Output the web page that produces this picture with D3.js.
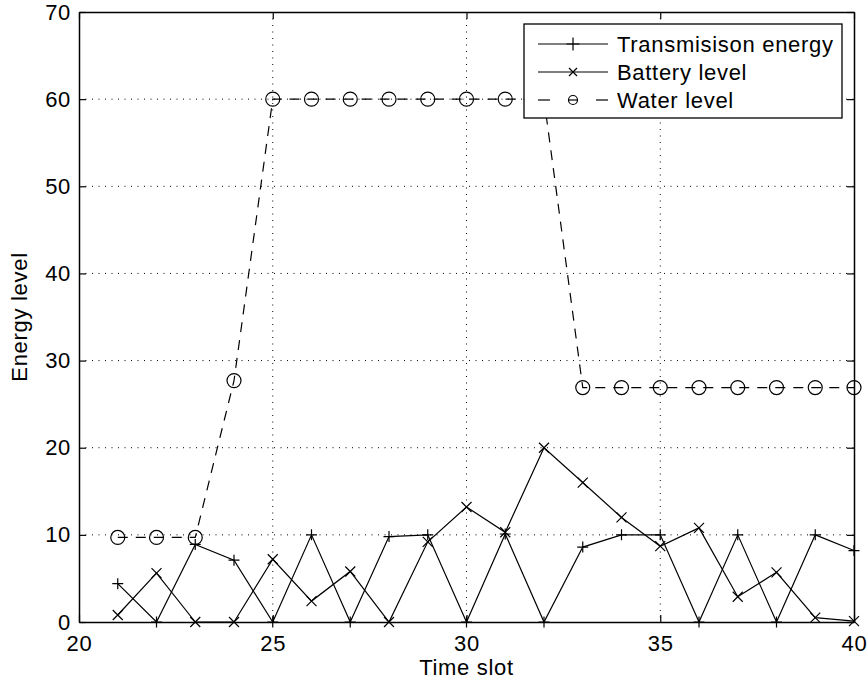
<!DOCTYPE html>
<html>
<head>
<meta charset="utf-8">
<script src="https://cdn.jsdelivr.net/npm/d3@7"></script>
<style>
    body { margin: 0; background: #fff; }
    text { font-family: "Liberation Sans", Arial, sans-serif; letter-spacing: 0.7px; }
</style>
</head>
<body>
<div id="chart"></div>
<script>
// data
const timeSlots = [21, 22, 23, 24, 25, 26, 27, 28, 29, 30, 31, 32, 33, 34, 35, 36, 37, 38, 39, 40];
const transmissionEnergy = [4.4, 0, 8.9, 7.1, 0, 10, 0, 9.8, 10, 0, 10.1, 0, 8.6, 10, 10, 0, 10, 0, 10, 8.2];
const batteryLevel = [0.8, 5.6, 0, 0, 7.2, 2.4, 5.8, 0, 9.2, 13.2, 10.3, 20, 16, 12, 8.7, 10.8, 2.9, 5.7, 0.5, 0.1];
const waterLevel = [9.7, 9.7, 9.7, 27.7, 60, 60, 60, 60, 60, 60, 60, 60, 26.9, 26.9, 26.9, 26.9, 26.9, 26.9, 26.9, 26.9];
const xTicks = [20, 25, 30, 35, 40];
const yTicks = [0, 10, 20, 30, 40, 50, 60, 70];
const seriesNames = ["Transmisison energy", "Battery level", "Water level"];

const totalWidth = 868;
const totalHeight = 684;
const margin = { top: 12, right: 14, bottom: 62, left: 79 };
const width = totalWidth - margin.left - margin.right;
const height = totalHeight - margin.top - margin.bottom;
const fontSize = "22px";
const tickLen = 7;

const svg = d3.select("#chart")
    .append("svg")
    .attr("width", totalWidth)
    .attr("height", totalHeight)
    .append("g")
    .attr("transform", `translate(${margin.left},${margin.top})`);

const x = d3.scaleLinear().domain([20, 40]).range([0, width]);
const y = d3.scaleLinear().domain([0, 70]).range([height, 0]);

// dotted grid
svg.append("g")
    .selectAll("line")
    .data(xTicks.slice(1, -1))
    .join("line")
    .attr("x1", d => x(d)).attr("x2", d => x(d))
    .attr("y1", 0).attr("y2", height)
    .attr("stroke", "#000")
    .attr("stroke-width", 1)
    .attr("stroke-dasharray", "1 5.5");
svg.append("g")
    .selectAll("line")
    .data(yTicks.slice(1, -1))
    .join("line")
    .attr("x1", 0).attr("x2", width)
    .attr("y1", d => y(d)).attr("y2", d => y(d))
    .attr("stroke", "#000")
    .attr("stroke-width", 1)
    .attr("stroke-dasharray", "1 5.5");

const rows = timeSlots.map((t, i) => ({
    t: t,
    trans: transmissionEnergy[i],
    batt: batteryLevel[i],
    water: waterLevel[i]
}));

const plus = (g, s) => g.append("path").attr("d", `M${-s},0H${s}M0,${-s}V${s}`);
const cross = (g, s) => g.append("path").attr("d", `M${-s},${-s}L${s},${s}M${-s},${s}L${s},${-s}`);
const ring = (g, s) => g.append("circle").attr("r", s);

function drawSeries(key, dash, marker, size) {
    svg.append("path")
        .datum(rows)
        .attr("fill", "none")
        .attr("stroke", "#000")
        .attr("stroke-width", 1.2)
        .attr("stroke-dasharray", dash)
        .attr("d", d3.line().x(d => x(d.t)).y(d => y(d[key])));

    svg.append("g")
        .selectAll("g")
        .data(rows)
        .join("g")
        .attr("transform", d => `translate(${x(d.t)},${y(d[key])})`)
        .each(function () {
            marker(d3.select(this), size)
                .attr("fill", "none")
                .attr("stroke", "#000")
                .attr("stroke-width", 1.2);
        });
}

drawSeries("trans", null, plus, 5.5);
drawSeries("batt", null, cross, 5);
drawSeries("water", "10 8", ring, 7);

// legend
const legend = svg.append("g")
    .attr("transform", `translate(${524 - margin.left},${24 - margin.top})`);
legend.append("rect")
    .attr("width", 318)
    .attr("height", 94)
    .attr("fill", "#fff")
    .attr("stroke", "#000")
    .attr("stroke-width", 1.3);

const legendItems = [
    { name: seriesNames[0], dash: null, marker: plus, size: 6.5 },
    { name: seriesNames[1], dash: null, marker: cross, size: 4 },
    { name: seriesNames[2], dash: "10 7", marker: ring, size: 4.5 }
];
legendItems.forEach((item, i) => {
    const row = legend.append("g").attr("transform", `translate(0,${20 + i * 28})`);
    if (item.dash) {
        row.append("line").attr("x1", 14).attr("x2", 26).attr("stroke", "#000").attr("stroke-width", 1.2);
        row.append("line").attr("x1", 72).attr("x2", 84).attr("stroke", "#000").attr("stroke-width", 1.2);
        row.append("line").attr("x1", 44).attr("x2", 54).attr("stroke", "#000").attr("stroke-width", 1.2);
    } else {
        row.append("line").attr("x1", 14).attr("x2", 84).attr("stroke", "#000").attr("stroke-width", 1.2);
    }
    item.marker(row.append("g").attr("transform", "translate(49,0)"), item.size)
        .attr("fill", "none")
        .attr("stroke", "#000")
        .attr("stroke-width", 1.2);
    row.append("text")
        .attr("x", 93)
        .attr("dy", "0.35em")
        .style("font-size", fontSize)
        .text(item.name);
});

// axes, ticks pointing inward (box on all sides)
const styleAxis = g => {
    g.selectAll("path.domain").attr("stroke", "#000").attr("stroke-width", 1.5);
    g.selectAll(".tick line").attr("stroke", "#000").attr("stroke-width", 1.2);
    g.selectAll("text").style("font-size", fontSize).attr("fill", "#000");
};

svg.append("g")
    .attr("transform", `translate(0,${height})`)
    .call(d3.axisBottom(x).tickValues(xTicks).tickSizeInner(-tickLen).tickSizeOuter(0).tickPadding(13).tickFormat(d3.format("d")))
    .call(styleAxis);
svg.append("g")
    .call(d3.axisTop(x).tickValues(xTicks).tickSizeInner(-tickLen).tickSizeOuter(0).tickFormat(""))
    .call(styleAxis);
svg.append("g")
    .call(d3.axisLeft(y).tickValues(yTicks).tickSizeInner(-tickLen).tickSizeOuter(0).tickPadding(8).tickFormat(d3.format("d")))
    .call(styleAxis);
svg.append("g")
    .attr("transform", `translate(${width},0)`)
    .call(d3.axisRight(y).tickValues(yTicks).tickSizeInner(-tickLen).tickSizeOuter(0).tickFormat(""))
    .call(styleAxis);

// axis titles
svg.append("text")
    .attr("x", width / 2)
    .attr("y", 675 - margin.top)
    .attr("text-anchor", "middle")
    .style("font-size", fontSize)
    .text("Time slot");
svg.append("text")
    .attr("transform", `translate(${27 - margin.left},${height / 2}) rotate(-90)`)
    .attr("text-anchor", "middle")
    .style("font-size", fontSize)
    .text("Energy level");
</script>
</body>
</html>
